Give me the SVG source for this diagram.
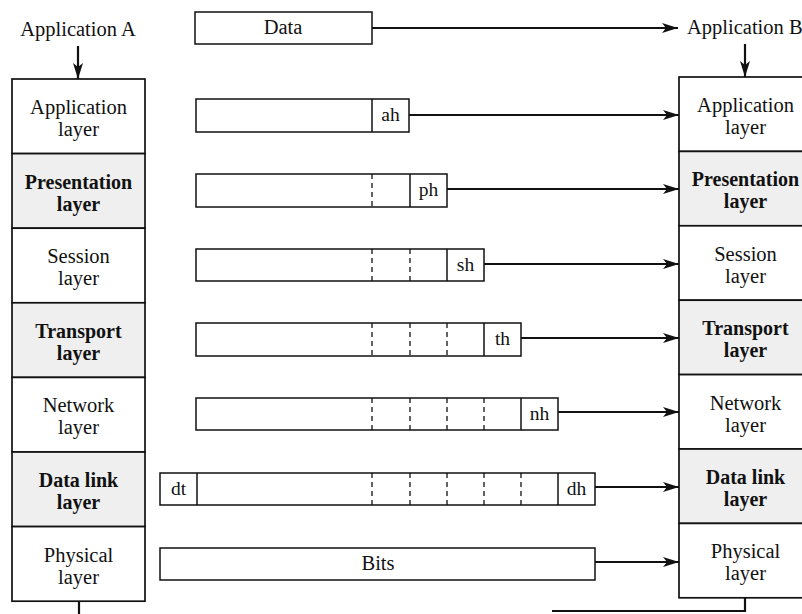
<svg xmlns="http://www.w3.org/2000/svg" width="802" height="614" viewBox="0 0 802 614">
<style>
text{font-family:"Liberation Serif","Times New Roman",serif;fill:#111;text-anchor:middle}
.lbl{font-size:20.5px}
.b{font-weight:bold;font-size:20px}
.box{fill:#fff;stroke:#111;stroke-width:1.7}
.sh{fill:#efefef;stroke:#111;stroke-width:1.7}
.pk{fill:#fff;stroke:#111;stroke-width:1.5}
.dash{stroke:#111;stroke-width:1.3;stroke-dasharray:5 4;fill:none}
.sol{stroke:#111;stroke-width:1.5;fill:none}
.con{stroke:#111;stroke-width:2.2;fill:none}
.hd{font-size:19.5px}
</style>
<defs>
<marker id="ah" viewBox="0 0 16 12" refX="16" refY="6" markerWidth="16" markerHeight="12" markerUnits="userSpaceOnUse" orient="auto">
<path d="M0,1 L16,6 L0,11 L4,6 Z" fill="#111"/>
</marker>
</defs>

<g id="appA"><text class="lbl" x="78" y="36">Application A</text></g>
<g id="appB"><text class="lbl" x="687" y="34" style="text-anchor:start">Application B</text></g>

<g id="left-stack">
<g id="lA"><rect class="box" x="12" y="79" width="133" height="74.6"/><text class="lbl" x="78.5" y="114">Application</text><text class="lbl" x="78.5" y="136">layer</text></g>
<g id="lP"><rect class="sh" x="12" y="153.6" width="133" height="74.6"/><text class="lbl b" x="78.5" y="188.6">Presentation</text><text class="lbl b" x="78.5" y="210.6">layer</text></g>
<g id="lS"><rect class="box" x="12" y="228.2" width="133" height="74.6"/><text class="lbl" x="78.5" y="263.2">Session</text><text class="lbl" x="78.5" y="285.2">layer</text></g>
<g id="lT"><rect class="sh" x="12" y="302.8" width="133" height="74.6"/><text class="lbl b" x="78.5" y="337.8">Transport</text><text class="lbl b" x="78.5" y="359.8">layer</text></g>
<g id="lN"><rect class="box" x="12" y="377.4" width="133" height="74.6"/><text class="lbl" x="78.5" y="412.4">Network</text><text class="lbl" x="78.5" y="434.4">layer</text></g>
<g id="lD"><rect class="sh" x="12" y="452" width="133" height="74.6"/><text class="lbl b" x="78.5" y="487">Data link</text><text class="lbl b" x="78.5" y="509">layer</text></g>
<g id="lPh"><rect class="box" x="12" y="526.6" width="133" height="74.6"/><text class="lbl" x="78.5" y="561.6">Physical</text><text class="lbl" x="78.5" y="583.6">layer</text></g>
</g>

<g id="right-stack">
<g id="rA"><rect class="box" x="679" y="77" width="133" height="74.4"/><text class="lbl" x="745.5" y="112">Application</text><text class="lbl" x="745.5" y="134">layer</text></g>
<g id="rP"><rect class="sh" x="679" y="151.4" width="133" height="74.4"/><text class="lbl b" x="745.5" y="186.4">Presentation</text><text class="lbl b" x="745.5" y="208.4">layer</text></g>
<g id="rS"><rect class="box" x="679" y="225.8" width="133" height="74.4"/><text class="lbl" x="745.5" y="260.8">Session</text><text class="lbl" x="745.5" y="282.8">layer</text></g>
<g id="rT"><rect class="sh" x="679" y="300.2" width="133" height="74.4"/><text class="lbl b" x="745.5" y="335.2">Transport</text><text class="lbl b" x="745.5" y="357.2">layer</text></g>
<g id="rN"><rect class="box" x="679" y="374.6" width="133" height="74.4"/><text class="lbl" x="745.5" y="409.6">Network</text><text class="lbl" x="745.5" y="431.6">layer</text></g>
<g id="rD"><rect class="sh" x="679" y="449" width="133" height="74.4"/><text class="lbl b" x="745.5" y="484">Data link</text><text class="lbl b" x="745.5" y="506">layer</text></g>
<g id="rPh"><rect class="box" x="679" y="523.4" width="133" height="74.4"/><text class="lbl" x="745.5" y="558.4">Physical</text><text class="lbl" x="745.5" y="580.4">layer</text></g>
</g>

<g id="pkt-data"><rect class="pk" x="195" y="12" width="177" height="32"/><text class="lbl" x="283" y="34">Data</text></g>

<g id="pkt-ah"><rect class="pk" x="196" y="99" width="213" height="33"/><line class="sol" x1="372" y1="99" x2="372" y2="132"/><text class="hd" x="390.5" y="121">ah</text></g>

<g id="pkt-ph"><rect class="pk" x="196" y="174" width="251" height="33"/><line class="dash" x1="372" y1="174" x2="372" y2="207"/><line class="sol" x1="410" y1="174" x2="410" y2="207"/><text class="hd" x="428.5" y="196">ph</text></g>

<g id="pkt-sh"><rect class="pk" x="196" y="249" width="288" height="32"/><line class="dash" x1="372" y1="249" x2="372" y2="281"/><line class="dash" x1="410" y1="249" x2="410" y2="281"/><line class="sol" x1="447" y1="249" x2="447" y2="281"/><text class="hd" x="465.5" y="271">sh</text></g>

<g id="pkt-th"><rect class="pk" x="196" y="323" width="325" height="33"/><line class="dash" x1="372" y1="323" x2="372" y2="356"/><line class="dash" x1="410" y1="323" x2="410" y2="356"/><line class="dash" x1="447" y1="323" x2="447" y2="356"/><line class="sol" x1="484" y1="323" x2="484" y2="356"/><text class="hd" x="502.5" y="345">th</text></g>

<g id="pkt-nh"><rect class="pk" x="196" y="398" width="362" height="32"/><line class="dash" x1="372" y1="398" x2="372" y2="430"/><line class="dash" x1="410" y1="398" x2="410" y2="430"/><line class="dash" x1="447" y1="398" x2="447" y2="430"/><line class="dash" x1="484" y1="398" x2="484" y2="430"/><line class="sol" x1="521" y1="398" x2="521" y2="430"/><text class="hd" x="539.5" y="420">nh</text></g>

<g id="pkt-dh"><rect class="pk" x="160" y="473" width="435" height="32"/><line class="sol" x1="197" y1="473" x2="197" y2="505"/><line class="dash" x1="372" y1="473" x2="372" y2="505"/><line class="dash" x1="410" y1="473" x2="410" y2="505"/><line class="dash" x1="447" y1="473" x2="447" y2="505"/><line class="dash" x1="484" y1="473" x2="484" y2="505"/><line class="dash" x1="521" y1="473" x2="521" y2="505"/><line class="sol" x1="558" y1="473" x2="558" y2="505"/><text class="hd" x="178.5" y="495">dt</text><text class="hd" x="576.5" y="495">dh</text></g>

<g id="pkt-bits"><rect class="pk" x="160" y="548" width="435" height="32"/><text class="lbl" x="378" y="570">Bits</text></g>

<g id="connectors">
<line class="con" x1="78" y1="46" x2="78" y2="79" marker-end="url(#ah)"/>
<line class="con" x1="745" y1="44" x2="745" y2="77" marker-end="url(#ah)"/>
<line class="con" x1="372" y1="28" x2="678" y2="28" marker-end="url(#ah)"/>
<line class="con" x1="409" y1="115" x2="679" y2="115" marker-end="url(#ah)"/>
<line class="con" x1="447" y1="189" x2="679" y2="189" marker-end="url(#ah)"/>
<line class="con" x1="484" y1="264" x2="679" y2="264" marker-end="url(#ah)"/>
<line class="con" x1="521" y1="338" x2="679" y2="338" marker-end="url(#ah)"/>
<line class="con" x1="558" y1="412" x2="679" y2="412" marker-end="url(#ah)"/>
<line class="con" x1="595" y1="487" x2="679" y2="487" marker-end="url(#ah)"/>
<line class="con" x1="595" y1="562" x2="679" y2="562" marker-end="url(#ah)"/>
<line class="con" x1="79" y1="601" x2="79" y2="614"/>
<polyline class="con" points="745,598 745,611 552,611"/>
</g>
</svg>
